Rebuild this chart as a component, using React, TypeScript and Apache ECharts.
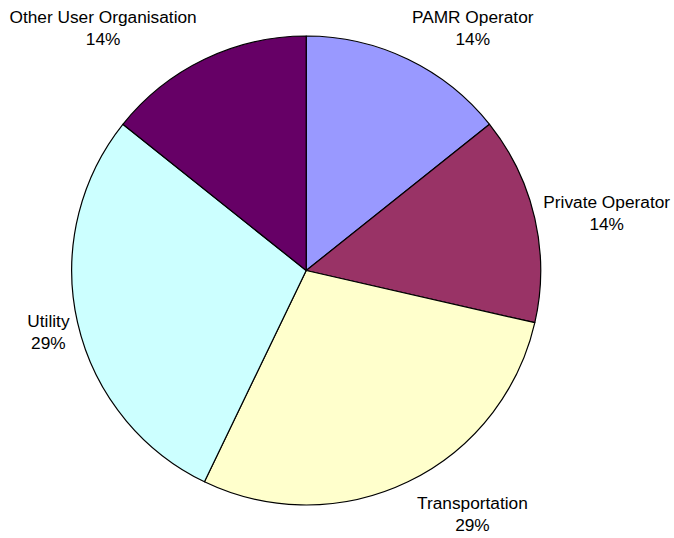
import React, { useEffect, useRef } from "react";
import * as echarts from "echarts";

const categories = ["PAMR Operator", "Private Operator", "Transportation", "Utility", "Other User Organisation"];
const values = [1, 1, 2, 2, 1];
const colors = ["#9999FF", "#993366", "#FFFFCC", "#CCFFFF", "#660066"];

// label placement (clockwise degrees from 12 o'clock, distance in px from the pie centre)
const labelAngles = [34.5, 79.1, 145.7, 256.6, 320];
const labelDistances = [294, 306, 295, 265, 316];

const CX = 306.2;
const CY = 270.5;
const R = 234.5;

export default function App() {
  const ref = useRef<HTMLDivElement>(null);
  useEffect(() => {
    if (!ref.current) return;
    const chart = echarts.init(ref.current, undefined, { renderer: "svg" });
    chart.setOption({
      animation: false,
      backgroundColor: "#ffffff",
      series: [
        {
          type: "pie",
          center: [CX, CY],
          radius: [0, R],
          startAngle: 90,
          clockwise: true,
          percentPrecision: 0,
          avoidLabelOverlap: false,
          data: categories.map((name, i) => ({
            name,
            value: values[i],
            itemStyle: { color: colors[i] },
          })),
          itemStyle: { borderColor: "#000000", borderWidth: 1.2 },
          emphasis: { disabled: true },
          label: {
            show: true,
            position: "outside",
            alignTo: "none",
            overflow: "none",
            formatter: "{b}\n{d}%",
            fontFamily: "'Liberation Sans', Arial, sans-serif",
            fontSize: 17.3,
            lineHeight: 22,
            color: "#000000",
            align: "center",
          },
          labelLine: { show: false },
          labelLayout: (params: any) => {
            const i = params.dataIndex;
            const a = (labelAngles[i] * Math.PI) / 180;
            const d = labelDistances[i];
            return {
              x: CX + Math.sin(a) * d,
              y: CY - Math.cos(a) * d,
              align: "center",
              verticalAlign: "middle",
            };
          },
        },
      ],
    });
    return () => chart.dispose();
  }, []);
  return (
    <div
      ref={ref}
      style={{ position: "fixed", left: 0, top: 0, width: 674, height: 538 }}
    />
  );
}
